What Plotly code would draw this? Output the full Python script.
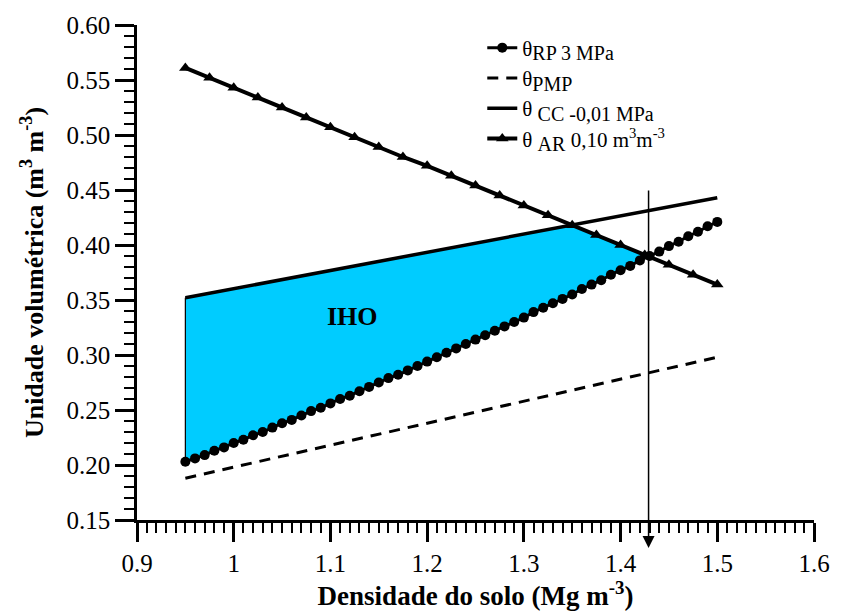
import numpy as np
import plotly.graph_objects as go

# Soil bulk density (Mg m-3) for the resistance curve, one point per 0.01
ds_rp = [0.95, 0.96, 0.97, 0.98, 0.99, 1.00, 1.01, 1.02, 1.03, 1.04, 1.05, 1.06,
         1.07, 1.08, 1.09, 1.10, 1.11, 1.12, 1.13, 1.14, 1.15, 1.16, 1.17, 1.18,
         1.19, 1.20, 1.21, 1.22, 1.23, 1.24, 1.25, 1.26, 1.27, 1.28, 1.29, 1.30,
         1.31, 1.32, 1.33, 1.34, 1.35, 1.36, 1.37, 1.38, 1.39, 1.40, 1.41, 1.42,
         1.43, 1.44, 1.45, 1.46, 1.47, 1.48, 1.49, 1.50]
theta_rp = [0.203, 0.206, 0.209, 0.213, 0.216, 0.220, 0.223, 0.227, 0.230, 0.234,
            0.238, 0.241, 0.245, 0.249, 0.252, 0.256, 0.260, 0.263, 0.267, 0.271,
            0.275, 0.279, 0.282, 0.286, 0.290, 0.294, 0.298, 0.302, 0.306, 0.310,
            0.314, 0.318, 0.322, 0.326, 0.330, 0.334, 0.339, 0.343, 0.347, 0.351,
            0.355, 0.360, 0.364, 0.368, 0.373, 0.377, 0.381, 0.386, 0.390, 0.394,
            0.399, 0.403, 0.408, 0.412, 0.417, 0.421]

# Air-filled porosity limit, one point per 0.025
ds_ar = [0.950, 0.975, 1.000, 1.025, 1.050, 1.075, 1.100, 1.125, 1.150, 1.175,
         1.200, 1.225, 1.250, 1.275, 1.300, 1.325, 1.350, 1.375, 1.400, 1.425,
         1.450, 1.475, 1.500]
theta_ar = [0.561, 0.552, 0.543, 0.534, 0.525, 0.516, 0.507, 0.498, 0.489, 0.480,
            0.472, 0.463, 0.454, 0.445, 0.436, 0.427, 0.418, 0.409, 0.400, 0.391,
            0.382, 0.373, 0.364]

# Field capacity and wilting point
ds_cc = [0.95, 1.50]
theta_cc = [0.352, 0.443]
ds_pmp = [0.95, 1.50]
theta_pmp = [0.188, 0.298]

x_ticks = [0.9, 1.0, 1.1, 1.2, 1.3, 1.4, 1.5, 1.6]
x_tick_text = ["0.9", "1", "1.1", "1.2", "1.3", "1.4", "1.5", "1.6"]
y_ticks = [0.15, 0.20, 0.25, 0.30, 0.35, 0.40, 0.45, 0.50, 0.55, 0.60]

SERIF = "Liberation Serif"

# ---- least limiting water range polygon -------------------------------------
xr = np.array(ds_rp)
lower = np.array(theta_rp)
upper = np.minimum(np.interp(xr, ds_cc, theta_cc), np.interp(xr, ds_ar, theta_ar))
diff = upper - lower
k = int(np.argmax(diff < 0))  # first point past the crossing
t = diff[k - 1] / (diff[k - 1] - diff[k])
x_cross = xr[k - 1] + t * (xr[k] - xr[k - 1])
y_cross = lower[k - 1] + t * (lower[k] - lower[k - 1])

poly_x = list(xr[:k]) + [x_cross] + list(xr[:k][::-1])
poly_y = list(upper[:k]) + [y_cross] + list(lower[:k][::-1])
poly_x.append(poly_x[0])
poly_y.append(poly_y[0])

# lowered (subscript) legend text kept close to full size
SUB = '<sub><span style="font-size:20px">{}</span></sub>'

fig = go.Figure()

fig.add_trace(go.Scatter(
    x=poly_x, y=poly_y, mode="lines", fill="toself",
    fillcolor="#00CCFF", line=dict(color="black", width=1.2),
    showlegend=False, hoverinfo="skip"))

fig.add_trace(go.Scatter(
    x=ds_pmp, y=theta_pmp, mode="lines", legendrank=2,
    name="θ" + SUB.format("PMP"),
    line=dict(color="black", width=3, dash="11px,8px")))

fig.add_trace(go.Scatter(
    x=ds_cc, y=theta_cc, mode="lines", legendrank=3,
    name="θ " + SUB.format("CC -0,01 MPa"),
    line=dict(color="black", width=3.5)))

fig.add_trace(go.Scatter(
    x=ds_ar, y=theta_ar, mode="lines+markers", legendrank=4,
    name="θ " + SUB.format("AR") + " 0,10 m<sup>3</sup>m<sup>-3</sup>",
    line=dict(color="black", width=4),
    marker=dict(symbol="triangle-up", size=11, color="black")))

fig.add_trace(go.Scatter(
    x=ds_rp, y=theta_rp, mode="lines+markers", legendrank=1,
    name="θ" + SUB.format("RP 3 MPa"),
    line=dict(color="black", width=3),
    marker=dict(symbol="circle", size=10, color="black")))

# IHO label
fig.add_annotation(x=1.123, y=0.335, xref="x", yref="y", text="<b>IHO</b>",
                   showarrow=False, font=dict(family=SERIF, size=26, color="black"))

# vertical arrow at the RP / AR crossing
fig.add_annotation(x=x_cross, y=0.15, xref="x", yref="y", text="",
                   showarrow=True, ax=0, ay=-359, yshift=-28,
                   arrowhead=2, arrowsize=1.6, arrowwidth=1.5, arrowcolor="black")

axis_common = dict(
    showline=True, linecolor="black", linewidth=2.5, mirror=False,
    ticks="outside", ticklen=19, tickwidth=2.5, tickcolor="black",
    showgrid=False, zeroline=False,
    tickfont=dict(family=SERIF, size=25, color="black"),
)

fig.update_xaxes(
    range=[0.9, 1.6], tickvals=x_ticks, ticktext=x_tick_text,
    minor=dict(dtick=0.01, tick0=0.9, ticks="outside", ticklen=10,
               tickwidth=2, tickcolor="black", showgrid=False),
    title=dict(text="<b>Densidade do solo (Mg m<sup>-3</sup>)</b>",
               font=dict(family=SERIF, size=27, color="black"), standoff=8),
    **axis_common)

fig.update_yaxes(
    range=[0.15, 0.60], tickvals=y_ticks, tickformat=".2f",
    minor=dict(dtick=0.01, tick0=0.15, ticks="outside", ticklen=10,
               tickwidth=2, tickcolor="black", showgrid=False),
    title=dict(text="<b>Unidade volumétrica (m<sup>3</sup> m<sup>-3</sup>)</b>",
               font=dict(family=SERIF, size=26, color="black"), standoff=16),
    **axis_common)

fig.update_layout(
    width=842, height=616,
    margin=dict(l=137, r=20, t=20, b=94),
    paper_bgcolor="white", plot_bgcolor="white",
    font=dict(family=SERIF, color="black"),
    legend=dict(x=0.51, y=0.995, xanchor="left", yanchor="top",
                bgcolor="rgba(0,0,0,0)", font=dict(family=SERIF, size=21),
                tracegroupgap=0),
)

fig.write_html("out.html")
